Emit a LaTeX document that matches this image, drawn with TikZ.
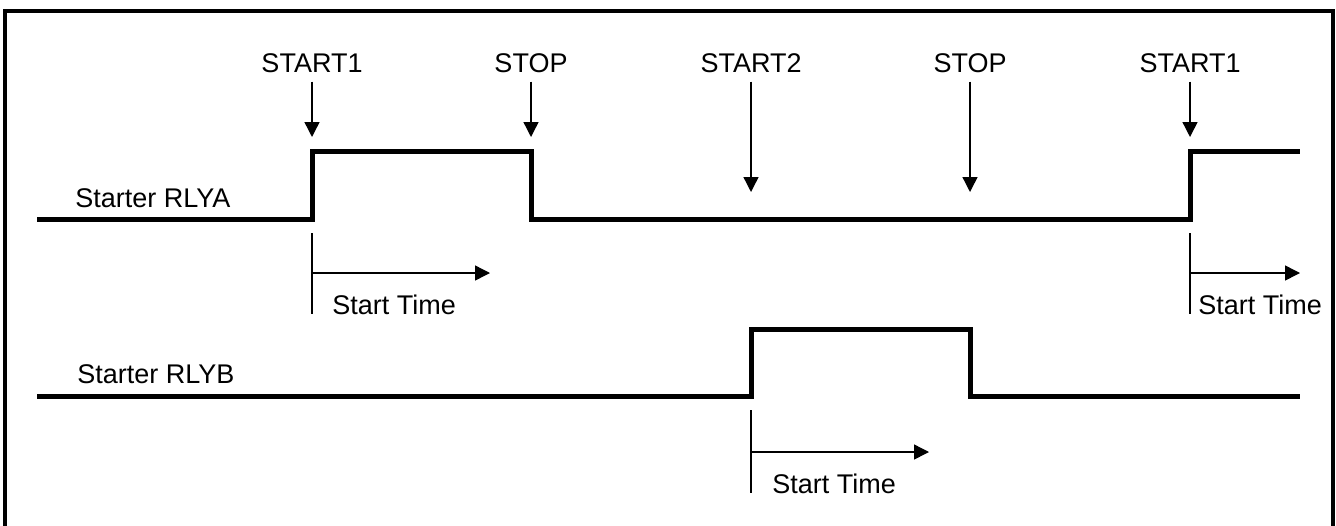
\documentclass[tikz,border=0pt]{standalone}
\usepackage{fontspec}
\setmainfont{Liberation Sans}
\usepackage{tikz}
\usetikzlibrary{arrows.meta}

\tikzset{
	sig/.style={line width=2.5pt, line join=miter},
	evt/.style={line width=0.7pt, -{Triangle[width=7.5pt,length=7.5pt]}},
	tick/.style={line width=0.7pt},
	lbl/.style={anchor=base, inner sep=4.5pt, font=\fontsize{13.5}{16}\selectfont},
	txt/.style={anchor=base west, inner sep=0pt, font=\fontsize{13.5}{16}\selectfont}
}

\begin{document}
\begin{tikzpicture}[x=0.5pt, y=-0.5pt]
		\useasboundingbox (0,0) rectangle (1336,525);
		\draw[line width=2pt] (5,530) -- (5,10.5) -- (1333,10.5) -- (1333,530);
		%
		\node (S1) [lbl] at (312,72) {START1};
		\node (P1) [lbl] at (531,72) {STOP};
		\node (S2) [lbl] at (751,72) {START2};
		\node (P2) [lbl] at (970,72) {STOP};
		\node (S3) [lbl] at (1190,72) {START1};
		\coordinate (TS1) at (312,137);
		\coordinate (TP1) at (531,137);
		\coordinate (TS2) at (751,192);
		\coordinate (TP2) at (970,192);
		\coordinate (TS3) at (1190,137);
		%
		\path[evt]
		(S1) edge (TS1)
		(P1) edge (TP1)
		(S2) edge (TS2)
		(P2) edge (TP2)
		(S3) edge (TS3);
		%
		\node (RA) [txt] at (75,207) {Starter RLYA};
		\node (RB) [txt] at (77,383) {Starter RLYB};
		\draw[sig] (37,219) -- (312,219) -- (312,151) -- (531,151) -- (531,219)
			-- (1190,219) -- (1190,151) -- (1300,151);
		\draw[sig] (37,396.5) -- (751,396.5) -- (751,329) -- (970,329) -- (970,396.5)
			-- (1300,396.5);
		%
		\node (LA) [txt] at (332,314) {Start Time};
		\node (LB) [txt] at (772,493) {Start Time};
		\node (LC) [txt] at (1198,314) {Start Time};
		\coordinate (VA) at (312,233);
		\coordinate (VB) at (751,410);
		\coordinate (VC) at (1190,233);
		\draw[tick] (VA) -- ++(0,81);
		\draw[tick] (VB) -- ++(0,83);
		\draw[tick] (VC) -- ++(0,81);
		\coordinate (HA) at (312,273);
		\coordinate (HB) at (751,452);
		\coordinate (HC) at (1190,273);
		\coordinate (EA) at (490,273);
		\coordinate (EB) at (929,452);
		\coordinate (EC) at (1300,273);
		\path[evt]
		(HA) edge (EA)
		(HB) edge (EB)
		(HC) edge (EC);
\end{tikzpicture}
\end{document}
